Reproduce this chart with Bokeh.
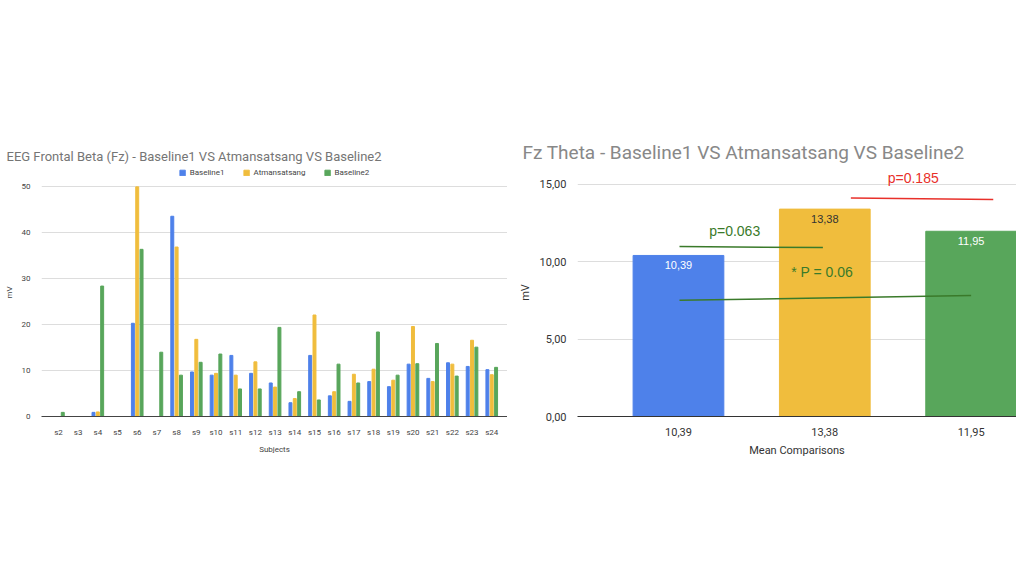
from bokeh.plotting import figure
from bokeh.layouts import row
from bokeh.models import ColumnDataSource, FixedTicker, Legend, LegendItem
from bokeh.transform import dodge
from bokeh.embed import file_html
from bokeh.resources import INLINE

subjects = ["s%d" % i for i in range(2, 25)]
baseline1 = [0, 0, 0.9, 0, 20.3, 0, 43.6, 9.7, 9.0, 13.3, 9.4, 7.3, 3.0, 13.3, 4.5, 3.3, 7.6, 6.5, 11.4, 8.3, 11.7, 10.9, 10.2]
atman = [0, 0, 1.0, 0, 50.0, 0, 36.9, 16.8, 9.4, 9.0, 11.9, 6.4, 3.9, 22.1, 5.4, 9.2, 10.3, 7.9, 19.6, 7.6, 11.4, 16.6, 9.1]
baseline2 = [0.9, 0, 28.4, 0, 36.4, 14.0, 9.0, 11.8, 13.6, 6.0, 6.0, 19.4, 5.4, 3.6, 11.4, 7.3, 18.4, 9.0, 11.5, 15.9, 8.8, 15.1, 10.7]

mean_labels = ["10,39", "13,38", "11,95"]
mean_values = [10.39, 13.38, 11.95]

BLUE, YEL, GRN = "#4e81ea", "#f0bd3d", "#58a65b"
FONT = "Roboto"

# ---------- left chart ----------
xs = list(range(len(subjects)))
src = ColumnDataSource(dict(x=xs, b1=baseline1, at=atman, b2=baseline2))
p1 = figure(width=507, height=559, output_backend="svg", toolbar_location=None,
            x_range=(-0.86, 22.8), y_range=(0, 54),
            min_border_left=41, min_border_right=0, min_border_top=168, min_border_bottom=123)
p1.outline_line_color = None
r1 = p1.vbar(x=dodge("x", -0.22, range=p1.x_range), top="b1", width=0.15, color=BLUE, source=src)
r2 = p1.vbar(x="x", top="at", width=0.15, color=YEL, source=src)
r3 = p1.vbar(x=dodge("x", 0.22, range=p1.x_range), top="b2", width=0.15, color=GRN, source=src)
p1.xaxis.ticker = FixedTicker(ticks=xs)
p1.xaxis.major_label_overrides = {i: s for i, s in enumerate(subjects)}
p1.yaxis.ticker = FixedTicker(ticks=[0, 10, 20, 30, 40, 50])
for ax in (p1.xaxis[0], p1.yaxis[0]):
    ax.major_tick_line_color = None
    ax.minor_tick_line_color = None
    ax.major_label_text_font = FONT
    ax.major_label_text_font_size = "8px"
    ax.major_label_text_color = "#444444"
    ax.axis_label_text_font = FONT
    ax.axis_label_text_font_size = "8px"
    ax.axis_label_text_font_style = "normal"
    ax.axis_label_text_color = "#444444"
p1.yaxis.axis_line_color = None
p1.xaxis.axis_line_color = "#444444"
p1.xaxis.axis_label = "Subjects"
p1.yaxis.axis_label = "mV"
p1.xgrid.grid_line_color = None
p1.ygrid.grid_line_color = "#dddddd"
leg = Legend(items=[LegendItem(label="Baseline1", renderers=[r1]),
                    LegendItem(label="Atmansatsang", renderers=[r2]),
                    LegendItem(label="Baseline2", renderers=[r3])],
             orientation="horizontal", location="top_center",
             label_text_font=FONT, label_text_font_size="8px", label_text_color="#444444",
             glyph_width=7, glyph_height=7, spacing=18, border_line_color=None,
             background_fill_alpha=0, margin=0, padding=0, label_standoff=4)
p1.add_layout(leg)
p1.title.text = "EEG Frontal Beta (Fz) - Baseline1 VS Atmansatsang VS Baseline2"
p1.title.text_font = FONT
p1.title.text_font_size = "13px"
p1.title.text_font_style = "normal"
p1.title.text_color = "#757575"
p1.title.offset = -35

# ---------- right chart ----------
mx = [0, 1, 2]
src2 = ColumnDataSource(dict(x=mx, top=mean_values, color=[BLUE, YEL, GRN],
                             lab=mean_labels, lc=["white", "#333333", "white"]))
p2 = figure(width=509, height=559, output_backend="svg", toolbar_location=None,
            x_range=(-0.69, 2.31), y_range=(0, 16),
            min_border_left=70, min_border_right=0, min_border_top=156, min_border_bottom=143)
p2.outline_line_color = None
p2.vbar(x="x", top="top", width=0.62, color="color", source=src2)
p2.text(x="x", y="top", text="lab", text_color="lc", source=src2, text_align="center",
        text_baseline="top", y_offset=6, text_font_size="11px")
p2.xaxis.ticker = FixedTicker(ticks=mx)
p2.xaxis.major_label_overrides = {i: s for i, s in enumerate(mean_labels)}
p2.yaxis.ticker = FixedTicker(ticks=[0, 5, 10, 15])
p2.yaxis.major_label_overrides = {0: "0,00", 5: "5,00", 10: "10,00", 15: "15,00"}
for ax in (p2.xaxis[0], p2.yaxis[0]):
    ax.major_tick_line_color = None
    ax.minor_tick_line_color = None
    ax.major_label_text_font = FONT
    ax.major_label_text_font_size = "11px"
    ax.major_label_text_color = "#333333"
    ax.axis_label_text_font = FONT
    ax.axis_label_text_font_size = "11px"
    ax.axis_label_text_font_style = "normal"
    ax.axis_label_text_color = "#333333"
p2.yaxis.axis_line_color = None
p2.xaxis.axis_line_color = "#333333"
p2.xaxis.axis_label = "Mean Comparisons"
p2.yaxis.axis_label = "mV"
p2.xgrid.grid_line_color = None
p2.ygrid.grid_line_color = "#dddddd"
p2.line([0.007, 0.987], [10.96, 10.9], line_color="#3a7a2a", line_width=1.5)
p2.line([0.007, 2.0], [7.5, 7.8], line_color="#3a7a2a", line_width=1.5)
p2.line([1.178, 2.151], [14.1, 14.0], line_color="#e8302a", line_width=1.5)
p2.text(x=[0.21], y=[12.0], text=["p=0.063"], text_color="#3a7a2a", text_baseline="middle", text_font_size="14px")
p2.text(x=[0.77], y=[9.3], text=["* P = 0.06"], text_color="#3a7a2a", text_baseline="middle", text_font_size="14px")
p2.text(x=[1.43], y=[15.4], text=["p=0.185"], text_color="#e8302a", text_baseline="middle", text_font_size="14px")
p2.title.text = "Fz Theta - Baseline1 VS Atmansatsang VS Baseline2"
p2.title.text_font = FONT
p2.title.text_font_size = "19px"
p2.title.text_font_style = "normal"
p2.title.text_color = "#888888"
p2.title.offset = -55

layout = row(p1, p2, spacing=0)
open("out.html", "w").write(file_html(layout, INLINE))
